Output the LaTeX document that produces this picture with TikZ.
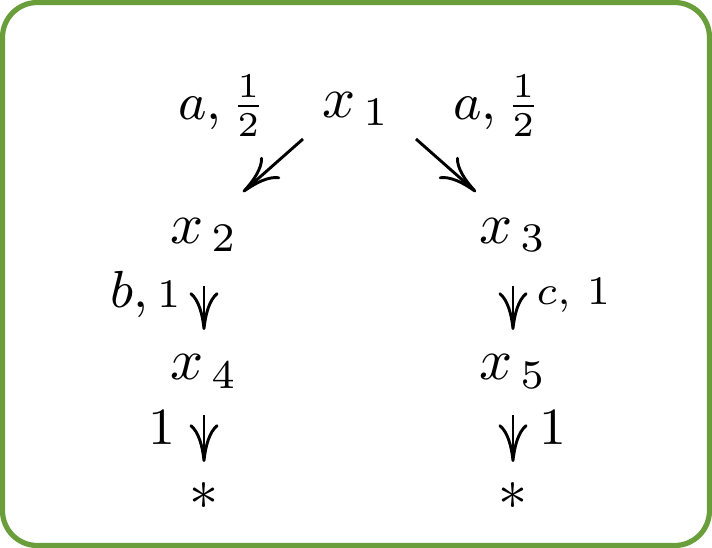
\documentclass[tikz,border=0pt]{standalone}
\usepackage{amsmath}
\usepackage{xcolor}
\usetikzlibrary{arrows.meta}
\definecolor{framegreen}{RGB}{106,158,58}

\begin{document}
\begin{tikzpicture}[x=0.1724pt, y=-0.1724pt,
    >={Computer Modern Rightarrow[length=6.5pt,width=5pt]}, line width=0.5pt,
    state/.style={anchor=base},
    lab/.style={inner sep=0pt, font=\small}]
  \useasboundingbox (0,0) rectangle (712,548);
  \draw[framegreen, line width=0.9pt, rounded corners=6pt] (2.5,2.5) rectangle (709.5,545.5);
  % states
  \node[state] (x1) at (356,117) {$x_{\,1}$};
  \node[state] (x2) at (204,243) {$x_{\,2}$};
  \node[state] (x3) at (513,243) {$x_{\,3}$};
  \node[state] (x4) at (204,380) {$x_{\,4}$};
  \node[state] (x5) at (513,380) {$x_{\,5}$};
  \node[state] (endl) at (204,510) {$*$};
  \node[state] (endr) at (513,510) {$*$};
  % labels
  \node[lab, anchor=base west] (lab12) at (177,119) {$a,\frac{1}{2}$};
  \node[lab, anchor=base west] (lab13) at (452,119) {$a,\frac{1}{2}$};
  \node[lab, anchor=base east] (lab24) at (182,307) {$b,\mbox{\scriptsize 1}$};
  \node[lab, anchor=base west, font=\scriptsize] (lab35) at (535,305) {$c,\,1$};
  \node[lab, anchor=base east] (lab4e) at (177,445) {$1$};
  \node[lab, anchor=base west] (lab5e) at (538,445) {$1$};
  % transitions
  \draw[->] ([shift={(-53,22)}]x1.base) -- ([shift={(39,-51)}]x2.base);
  \draw[->] ([shift={(60,22)}]x1.base) -- ([shift={(-37,-51)}]x3.base);
  \draw[->] ([yshift=-43*0.1724pt]x2.base) -- ([yshift=50*0.1724pt]x4.base);
  \draw[->] ([yshift=-43*0.1724pt]x3.base) -- ([yshift=50*0.1724pt]x5.base);
  \draw[->] ([yshift=-35*0.1724pt]x4.base) -- ([yshift=48*0.1724pt]endl.base);
  \draw[->] ([yshift=-35*0.1724pt]x5.base) -- ([yshift=48*0.1724pt]endr.base);
\end{tikzpicture}
\end{document}
